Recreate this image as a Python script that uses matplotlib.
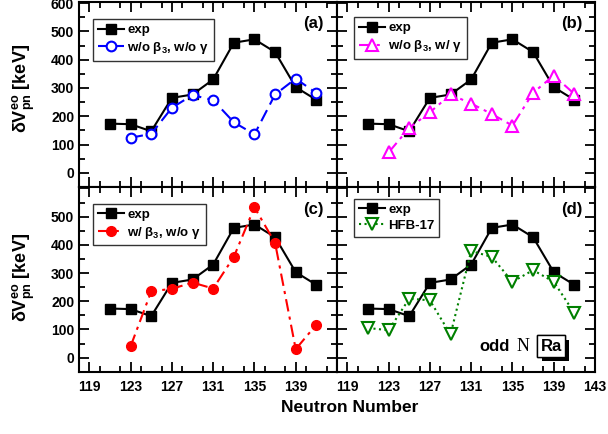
import matplotlib
matplotlib.use('Agg')
import matplotlib.pyplot as plt
from matplotlib.ticker import MultipleLocator
from matplotlib import patheffects

plt.rcParams['font.family'] = ['Liberation Sans', 'DejaVu Sans']
plt.rcParams['font.weight'] = 'bold'
plt.rcParams['mathtext.fontset'] = 'custom'
plt.rcParams['mathtext.rm'] = 'Liberation Sans:bold'
plt.rcParams['mathtext.bf'] = 'Liberation Sans:bold'
plt.rcParams['mathtext.it'] = 'Liberation Sans:bold'
plt.rcParams['mathtext.sf'] = 'Liberation Sans:bold'

# datos
n_exp = [121, 123, 125, 127, 129, 131, 133, 135, 137, 139, 141]
v_exp = [174, 172, 147, 265, 277, 330, 460, 472, 427, 303, 258]

n_mod = [123, 125, 127, 129, 131, 133, 135, 137, 139, 141]
v_nob3_nog = [124, 138, 230, 275, 257, 179, 136, 277, 333, 282]
v_nob3_g = [72, 159, 214, 277, 245, 208, 167, 283, 344, 279]
v_b3_nog = [40, 235, 244, 266, 245, 357, 533, 407, 30, 117]

n_hfb = [121, 123, 125, 127, 129, 131, 133, 135, 137, 139, 141]
v_hfb = [105, 97, 209, 203, 82, 378, 357, 269, 310, 269, 158]

xticks = [119, 123, 127, 131, 135, 139, 143]
yticks = [0, 100, 200, 300, 400, 500, 600]

fig = plt.figure(figsize=(6.08, 4.34), dpi=100)

W, H = 608, 434
def box(x0, y0, x1, y1):
    return [x0 / W, 1 - y1 / H, (x1 - x0) / W, (y1 - y0) / H]

ax_a = fig.add_axes(box(79, 1.7, 337, 187))
ax_b = fig.add_axes(box(337, 1.7, 595, 187))
ax_c = fig.add_axes(box(79, 187, 337, 371.7))
ax_d = fig.add_axes(box(337, 187, 595, 371.7))

exp_style = dict(color='k', marker='s', ms=7, lw=1.5, label='exp')

ax_a.plot(n_exp, v_exp, **exp_style)
ax_a.plot(n_mod, v_nob3_nog, color='#0000ff', marker='o', mfc='white', mec='#0000ff',
          ms=7, mew=1.5, lw=1.5, dashes=(6, 3),
          label=r'w/o $\mathregular{\beta_3}$, w/o $\mathregular{\gamma}$')

ax_b.plot(n_exp, v_exp, **exp_style)
ax_b.plot(n_mod, v_nob3_g, color='#ff00ff', marker='^', mfc='white', mec='#ff00ff',
          ms=8, mew=1.5, lw=1.5, dashes=(6, 2.5, 1.5, 2.5),
          label=r'w/o $\mathregular{\beta_3}$, w/ $\mathregular{\gamma}$')

ax_c.plot(n_exp, v_exp, **exp_style)
ax_c.plot(n_mod, v_b3_nog, color='#ff0000', marker='o', ms=7, lw=1.5,
          dashes=(6, 2.5, 1.5, 2.5),
          label=r'w/ $\mathregular{\beta_3}$, w/o $\mathregular{\gamma}$')

ax_d.plot(n_exp, v_exp, **exp_style)
ax_d.plot(n_hfb, v_hfb, color='#008000', marker='v', mfc='white', mec='#008000',
          ms=8, mew=1.5, lw=1.5, linestyle=':', label='HFB-17')

legend_pos = {ax_a: (0.054, 0.905), ax_b: (0.066, 0.915),
              ax_c: (0.054, 0.908), ax_d: (0.066, 0.935)}
panel_lbl = {ax_a: '(a)', ax_b: '(b)', ax_c: '(c)', ax_d: '(d)'}

for ax in [ax_a, ax_b, ax_c, ax_d]:
    ax.set_xlim(118, 143)
    ax.set_ylim(-50, 605)
    ax.set_xticks(xticks)
    ax.xaxis.set_minor_locator(MultipleLocator(2))
    ax.set_yticks(yticks)
    ax.yaxis.set_minor_locator(MultipleLocator(50))
    ax.tick_params(which='both', direction='in', top=True, right=True,
                   labelsize=10, width=1.3)
    ax.tick_params(which='major', length=7)
    ax.tick_params(which='minor', length=4)
    for s in ax.spines.values():
        s.set_linewidth(1.5)
    leg = ax.legend(loc='upper left', bbox_to_anchor=legend_pos[ax], borderaxespad=0,
                    fontsize=9.5, frameon=True, fancybox=False, edgecolor='k',
                    handlelength=2.0, handletextpad=0.25, borderpad=0.35,
                    labelspacing=0.3)
    leg.get_frame().set_linewidth(1.0)
    ax.text(0.95, 0.88, panel_lbl[ax], transform=ax.transAxes, ha='right', va='center',
            fontsize=12, fontweight='bold')

# etiquetas de ejes
ax_a.set_xticklabels([])
ax_b.set_xticklabels([])
ax_b.set_yticklabels([])
ax_d.set_yticklabels([])
ax_a.set_yticklabels([str(v) for v in yticks])
ax_c.set_yticklabels([str(v) for v in yticks[:-1]] + [''])
ax_c.set_xticklabels([str(v) for v in xticks[:-1]] + [''])
ax_d.set_xticklabels([str(v) for v in xticks])
for ax in [ax_c, ax_d]:
    ax.tick_params(axis='x', pad=6)

ylab = r'$\mathregular{\delta}$V$^{\mathbf{eo}}_{\mathbf{pn}}$ [keV]'
fig.text(24 / W, 1 - 88 / H, ylab, rotation=90, ha='center', va='center', fontsize=13)
fig.text(24 / W, 1 - 277 / H, ylab, rotation=90, ha='center', va='center', fontsize=13)
fig.text(350 / W, 1 - 408 / H, 'Neutron Number', ha='center', va='center',
         fontsize=12.5, fontweight='bold')

# odd N  Ra
ax_d.text(134.75, 40, 'odd', ha='right', va='center', fontsize=12, fontweight='bold')
ax_d.text(136.05, 40, 'N', ha='center', va='center', fontsize=13,
          family=['Liberation Serif', 'DejaVu Serif'], fontweight='normal')
t = ax_d.text(138.77, 40, 'Ra', ha='center', va='center', fontsize=12, fontweight='bold',
              bbox=dict(boxstyle='square,pad=0.2', fc='white', ec='k', lw=1.0))
t.get_bbox_patch().set_path_effects([
    patheffects.withSimplePatchShadow(offset=(3, -3), shadow_rgbFace='k', alpha=1.0),
    patheffects.Normal()])

fig.savefig('out.png', dpi=100)
